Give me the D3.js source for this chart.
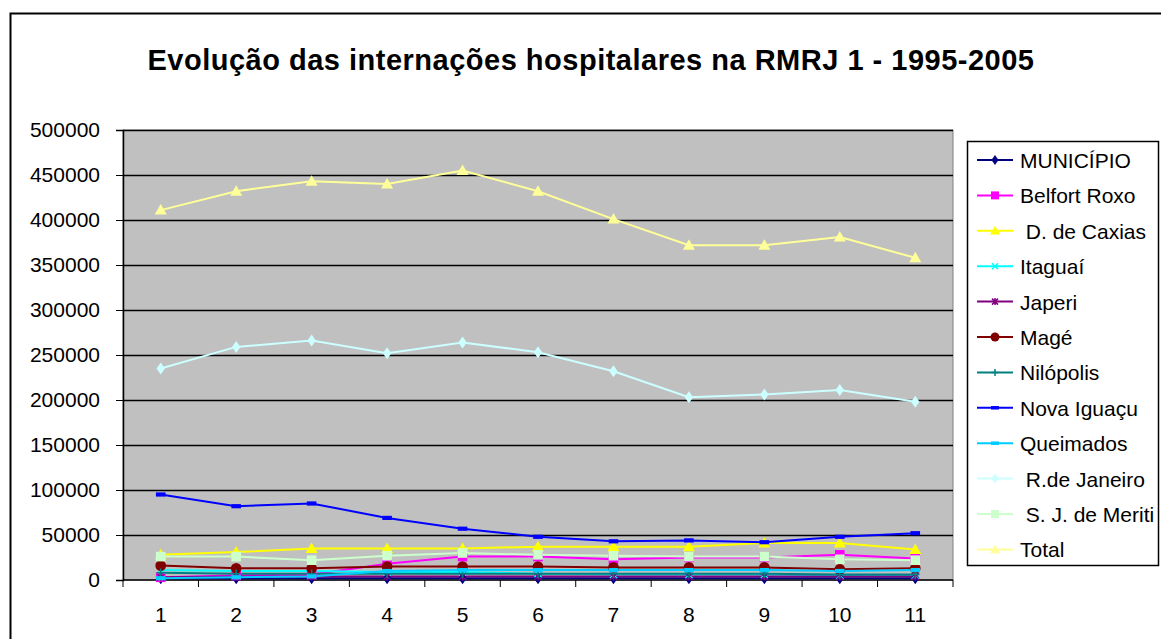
<!DOCTYPE html>
<html>
<head>
<meta charset="utf-8">
<script src="https://cdn.jsdelivr.net/npm/d3@7"></script>
<style>
  body { margin: 0; background: #fff; }
  svg { font-family: Arial, "Liberation Sans", sans-serif; }
</style>
</head>
<body>
<div id="chart"></div>
<script>
// Data
const categories = [1, 2, 3, 4, 5, 6, 7, 8, 9, 10, 11];
const yTicks = [0, 50000, 100000, 150000, 200000, 250000, 300000, 350000, 400000, 450000, 500000];

const municipio   = [1995, 1996, 1997, 1998, 1999, 2000, 2001, 2002, 2003, 2004, 2005];
const belfortRoxo = [3000, 5000, 6000, 18000, 26000, 26000, 23000, 25000, 25000, 28000, 24000];
const caxias      = [28000, 31000, 35000, 35000, 35000, 37000, 37000, 37000, 41000, 41000, 34000];
const itaguai     = [11000, 10000, 10000, 9000, 9000, 7000, 6000, 6000, 6000, 5000, 5000];
const japeri      = [3000, 4000, 4000, 4000, 4000, 4000, 4000, 4000, 4000, 4000, 4000];
const mage        = [16000, 13000, 13000, 15000, 15000, 15000, 14000, 14000, 14000, 12000, 13000];
const nilopolis   = [8000, 7000, 7000, 7000, 7000, 7000, 7000, 7000, 7000, 6000, 6000];
const novaIguacu  = [95000, 82000, 85000, 69000, 57000, 48000, 43000, 44000, 42000, 48000, 52000];
const queimados   = [2000, 3000, 4000, 10000, 11000, 11000, 11000, 11000, 11000, 10000, 11000];
const rioJaneiro  = [235000, 259000, 266000, 252000, 264000, 253000, 232000, 203000, 206000, 211000, 198000];
const sjMeriti    = [26000, 26000, 22000, 27000, 30000, 28000, 27000, 26000, 26000, 23000, 22000];
const total       = [411000, 432000, 443000, 440000, 455000, 432000, 401000, 372000, 372000, 381000, 358000];

const series = [
  { name: "MUNICÍPIO",       values: municipio,   color: "#000080", marker: "diamond" },
  { name: "Belfort Roxo",    values: belfortRoxo, color: "#FF00FF", marker: "square" },
  { name: " D. de Caxias",   values: caxias,      color: "#FFFF00", marker: "triangle" },
  { name: "Itaguaí",         values: itaguai,     color: "#00FFFF", marker: "x" },
  { name: "Japeri",          values: japeri,      color: "#800080", marker: "star" },
  { name: "Magé",            values: mage,        color: "#800000", marker: "circle" },
  { name: "Nilópolis",       values: nilopolis,   color: "#008080", marker: "plus" },
  { name: "Nova Iguaçu",     values: novaIguacu,  color: "#0000FF", marker: "dash" },
  { name: "Queimados",       values: queimados,   color: "#00CCFF", marker: "dash" },
  { name: " R.de Janeiro",   values: rioJaneiro,  color: "#CCFFFF", marker: "diamond" },
  { name: " S. J. de Meriti", values: sjMeriti,   color: "#CCFFCC", marker: "square" },
  { name: "Total",           values: total,       color: "#FFFF99", marker: "triangle" }
];

const width = 1161;
const height = 639;
const plot = { left: 123, top: 130, right: 953, bottom: 580 };

const svg = d3.select("#chart")
  .append("svg")
    .attr("width", width)
    .attr("height", height);

// Outer chart border (runs off the right and bottom edge)
svg.append("rect")
  .attr("x", 10.5)
  .attr("y", 13.5)
  .attr("width", 1200)
  .attr("height", 700)
  .attr("fill", "none")
  .attr("stroke", "#000")
  .attr("stroke-width", 2);

// Title
svg.append("text")
  .attr("x", 591)
  .attr("y", 70)
  .attr("text-anchor", "middle")
  .style("font-size", "29px")
  .style("font-weight", "bold")
  .style("letter-spacing", "0.5px")
  .text("Evolução das internações hospitalares na RMRJ 1 - 1995-2005");

// Scales
const xScale = d3.scaleBand()
  .domain(categories)
  .range([plot.left, plot.right]);
const yScale = d3.scaleLinear()
  .domain([0, 500000])
  .range([plot.bottom, plot.top]);

// Plot area
svg.append("rect")
  .attr("x", plot.left)
  .attr("y", plot.top)
  .attr("width", plot.right - plot.left)
  .attr("height", plot.bottom - plot.top)
  .attr("fill", "#C0C0C0")
  .attr("stroke", "#808080")
  .attr("stroke-width", 1);

// Gridlines
svg.append("g")
  .selectAll("line")
  .data(yTicks.slice(1))
  .join("line")
    .attr("x1", plot.left)
    .attr("x2", plot.right)
    .attr("y1", d => Math.round(yScale(d)) + 0.5)
    .attr("y2", d => Math.round(yScale(d)) + 0.5)
    .attr("stroke", "#000")
    .attr("stroke-width", 1.5);

// Axes
const leftAxis = d3.axisLeft(yScale)
  .tickValues(yTicks)
  .tickFormat(d3.format("d"))
  .tickSize(7)
  .tickPadding(16);
svg.append("g")
  .attr("class", "axis-y")
  .attr("transform", `translate(${plot.left},0)`)
  .call(leftAxis);

const bottomAxis = d3.axisBottom(xScale)
  .tickSize(0)
  .tickPadding(27);
svg.append("g")
  .attr("class", "axis-x")
  .attr("transform", `translate(0,${plot.bottom})`)
  .call(bottomAxis);

// Band boundary ticks on the x axis
svg.append("g")
  .selectAll("line")
  .data(categories.concat([null]))
  .join("line")
    .attr("x1", (d, i) => plot.left + i * xScale.step())
    .attr("x2", (d, i) => plot.left + i * xScale.step())
    .attr("y1", plot.bottom)
    .attr("y2", plot.bottom + 7)
    .attr("stroke", "#000");

svg.selectAll(".axis-y path, .axis-x path")
  .attr("stroke", "#000")
  .attr("stroke-width", 1.5);
svg.selectAll(".axis-y text, .axis-x text")
  .style("font-size", "21px")
  .style("font-family", "Arial, 'Liberation Sans', sans-serif")
  .attr("fill", "#000");
svg.select(".axis-x path").attr("d", `M${plot.left},0H${plot.right}`);

// Marker shapes
const markerPath = (type, s) => {
  switch (type) {
    case "diamond": return `M0,${-s}L${s * 0.7},0L0,${s}L${-s * 0.7},0Z`;
    case "square": return `M${-s * 0.8},${-s * 0.8}h${s * 1.6}v${s * 1.6}h${-s * 1.6}Z`;
    case "triangle": return `M0,${-s}L${s},${s * 0.75}L${-s},${s * 0.75}Z`;
    case "circle": return d3.symbol(d3.symbolCircle, Math.PI * s * s * 0.8)();
    case "dash": return `M${-s * 0.8},${-s * 0.35}h${s * 1.6}v${s * 0.7}h${-s * 1.6}Z`;
    default: return null;
  }
};

const drawMarker = (g, type, color, s) => {
  if (type === "x") {
    g.append("path")
      .attr("d", `M${-s * 0.6},${-s * 0.6}L${s * 0.6},${s * 0.6}M${-s * 0.6},${s * 0.6}L${s * 0.6},${-s * 0.6}`)
      .attr("stroke", color).attr("stroke-width", 1.5).attr("fill", "none");
  } else if (type === "star") {
    g.append("path")
      .attr("d", `M${-s * 0.6},${-s * 0.6}L${s * 0.6},${s * 0.6}M${-s * 0.6},${s * 0.6}L${s * 0.6},${-s * 0.6}M0,${-s * 0.7}V${s * 0.7}`)
      .attr("stroke", color).attr("stroke-width", 1.5).attr("fill", "none");
  } else if (type === "plus") {
    g.append("path")
      .attr("d", `M${-s * 0.7},0H${s * 0.7}M0,${-s * 0.7}V${s * 0.7}`)
      .attr("stroke", color).attr("stroke-width", 1.5).attr("fill", "none");
  } else {
    g.append("path")
      .attr("d", markerPath(type, s))
      .attr("fill", color);
  }
};

// Lines and markers
const line = d3.line()
  .x((d, i) => xScale(categories[i]) + xScale.bandwidth() / 2)
  .y(d => yScale(d));

const linesG = svg.append("g");
series.forEach(s => {
  linesG.append("path")
    .datum(s.values)
    .attr("d", line)
    .attr("fill", "none")
    .attr("stroke", s.color)
    .attr("stroke-width", 2);
});
series.forEach(s => {
  s.values.forEach((v, i) => {
    const g = linesG.append("g")
      .attr("transform", `translate(${xScale(categories[i]) + xScale.bandwidth() / 2},${yScale(v)})`);
    drawMarker(g, s.marker, s.color, 6);
  });
});

// Legend
const legend = svg.append("g");
legend.append("rect")
  .attr("x", 967.5)
  .attr("y", 141.5)
  .attr("width", 191)
  .attr("height", 424)
  .attr("fill", "#fff")
  .attr("stroke", "#000")
  .attr("stroke-width", 1.5);

series.forEach((s, i) => {
  const y = 160 + i * 35.4;
  const item = legend.append("g");
  item.append("line")
    .attr("x1", 977)
    .attr("x2", 1013)
    .attr("y1", y)
    .attr("y2", y)
    .attr("stroke", s.color)
    .attr("stroke-width", 2);
  const m = item.append("g").attr("transform", `translate(995,${y})`);
  drawMarker(m, s.marker, s.color, 5);
  item.append("text")
    .attr("x", 1020)
    .attr("y", y + 8)
    .style("font-size", "21px")
    .style("white-space", "pre")
    .attr("xml:space", "preserve")
    .text(s.name);
});
</script>
</body>
</html>
